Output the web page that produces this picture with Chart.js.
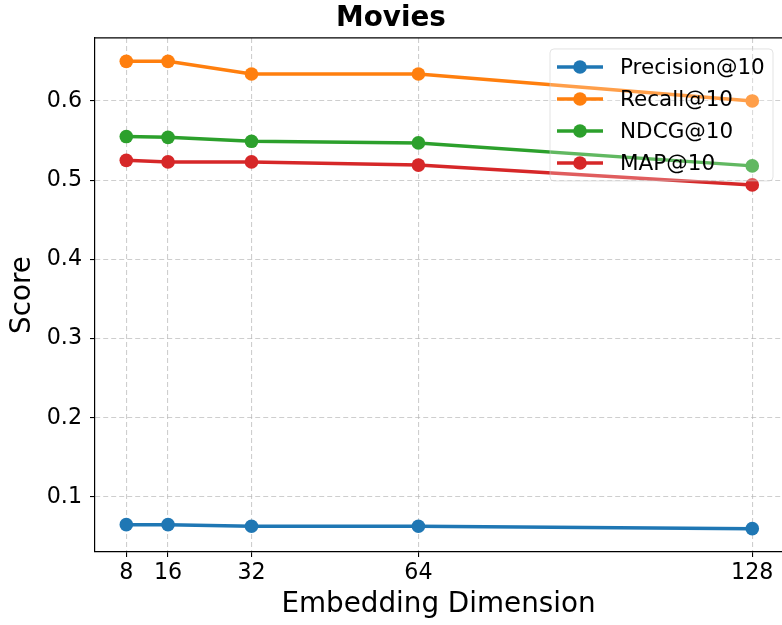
<!DOCTYPE html>
<html>
<head>
<meta charset="utf-8">
<script src="https://cdn.jsdelivr.net/npm/chart.js@4"></script>
<style>
  html, body { margin: 0; padding: 0; background: #fff; }
  #wrap { width: 782px; height: 625px; }
</style>
</head>
<body>
<div id="wrap"><canvas id="chart" width="782" height="625"></canvas></div>
<script>
// data
const dims = [8, 16, 32, 64, 128];
const precision = [0.065, 0.065, 0.063, 0.063, 0.060];
const recall = [0.650, 0.650, 0.634, 0.634, 0.600];
const ndcg = [0.555, 0.554, 0.549, 0.547, 0.518];
const map10 = [0.525, 0.523, 0.523, 0.519, 0.494];
const seriesNames = ["Precision@10", "Recall@10", "NDCG@10", "MAP@10"];
const yTicks = [0.1, 0.2, 0.3, 0.4, 0.5, 0.6];
const xTicks = dims;

const colors = ["#1f77b4", "#ff7f0e", "#2ca02c", "#d62728"];
const FONT = "'DejaVu Sans', sans-serif";

function makeSet(label, values, color) {
  return {
    label: label,
    data: dims.map((d, i) => ({ x: d, y: values[i] })),
    borderColor: color,
    backgroundColor: color,
    borderWidth: 3.5,
    pointRadius: 6.8,
    pointBorderWidth: 0,
    pointHoverRadius: 6.8,
    tension: 0,
    fill: false
  };
}

// top spine of the axes box
const frame = {
  id: "frame",
  afterDraw(chart) {
    const { ctx, chartArea } = chart;
    ctx.save();
    ctx.strokeStyle = "#000";
    ctx.lineWidth = 1.2;
    ctx.beginPath();
    ctx.moveTo(chartArea.left, chartArea.top);
    ctx.lineTo(chartArea.right, chartArea.top);
    ctx.stroke();
    ctx.restore();
  }
};

// matplotlib-like legend inside the axes, upper right
const innerLegend = {
  id: "innerLegend",
  afterDatasetsDraw(chart) {
    const { ctx, chartArea } = chart;
    const right = chartArea.right - 9;
    const left = right - 223;
    const top = chartArea.top + 11;
    const h = 132;
    ctx.save();
    ctx.beginPath();
    ctx.roundRect(left, top, right - left, h, 4);
    ctx.fillStyle = "rgba(255,255,255,0.25)";
    ctx.fill();
    ctx.strokeStyle = "rgba(200,200,200,0.5)";
    ctx.lineWidth = 1;
    ctx.stroke();
    ctx.font = "21.5px " + FONT;
    ctx.textBaseline = "middle";
    ctx.textAlign = "left";
    chart.data.datasets.forEach((ds, i) => {
      const cy = top + 18 + i * 32;
      ctx.strokeStyle = ds.borderColor;
      ctx.lineWidth = 3.5;
      ctx.beginPath();
      ctx.moveTo(left + 7, cy);
      ctx.lineTo(left + 53, cy);
      ctx.stroke();
      ctx.fillStyle = ds.borderColor;
      ctx.beginPath();
      ctx.arc(left + 30, cy, 6.8, 0, Math.PI * 2);
      ctx.fill();
      ctx.fillStyle = "#000";
      ctx.fillText(ds.label, left + 70, cy + 1);
    });
    ctx.restore();
  }
};

const gridColor = "rgba(180,180,180,0.65)";

new Chart(document.getElementById("chart").getContext("2d"), {
  type: "line",
  data: {
    datasets: [
      makeSet(seriesNames[0], precision, colors[0]),
      makeSet(seriesNames[1], recall, colors[1]),
      makeSet(seriesNames[2], ndcg, colors[2]),
      makeSet(seriesNames[3], map10, colors[3])
    ]
  },
  options: {
    responsive: false,
    animation: false,
    layout: { padding: 0, autoPadding: false },
    plugins: {
      legend: { display: false },
      tooltip: { enabled: false },
      title: {
        display: true,
        text: "Movies",
        color: "#000",
        font: { family: FONT, size: 27.8, weight: "bold" },
        padding: { top: 2, bottom: 2.6 }
      }
    },
    scales: {
      x: {
        type: "linear",
        min: 2,
        max: 133.7,
        afterBuildTicks(scale) { scale.ticks = xTicks.map(v => ({ value: v })); },
        afterFit(scale) {
          scale.height = 73;
          scale.paddingLeft = 0;
          scale.paddingRight = 0;
        },
        ticks: {
          color: "#000",
          font: { family: FONT, size: 22.2 },
          padding: 3,
          maxRotation: 0,
          callback: v => String(v)
        },
        grid: { color: gridColor, lineWidth: 1.1, tickLength: 5, tickColor: "#000", tickWidth: 1.1 },
        border: { display: true, color: "#000", width: 1.2, dash: [5, 3] },
        title: {
          display: true,
          text: "Embedding Dimension",
          color: "#000",
          font: { family: FONT, size: 27.8 },
          padding: { top: 0, bottom: 3.3 }
        }
      },
      y: {
        type: "linear",
        min: 0.0305,
        max: 0.6795,
        afterBuildTicks(scale) { scale.ticks = yTicks.map(v => ({ value: v })); },
        afterFit(scale) {
          scale.width = 95;
          scale.paddingTop = 0;
          scale.paddingBottom = 0;
        },
        ticks: {
          color: "#000",
          font: { family: FONT, size: 22.2 },
          padding: 8,
          callback: v => v.toFixed(1)
        },
        grid: { color: gridColor, lineWidth: 1.1, tickLength: 5, tickColor: "#000", tickWidth: 1.1 },
        border: { display: true, color: "#000", width: 1.2, dash: [5, 3] },
        title: {
          display: true,
          text: "Score",
          color: "#000",
          font: { family: FONT, size: 27.8 },
          padding: { top: 6.3, bottom: 0 }
        }
      }
    }
  },
  plugins: [frame, innerLegend]
});
</script>
</body>
</html>
